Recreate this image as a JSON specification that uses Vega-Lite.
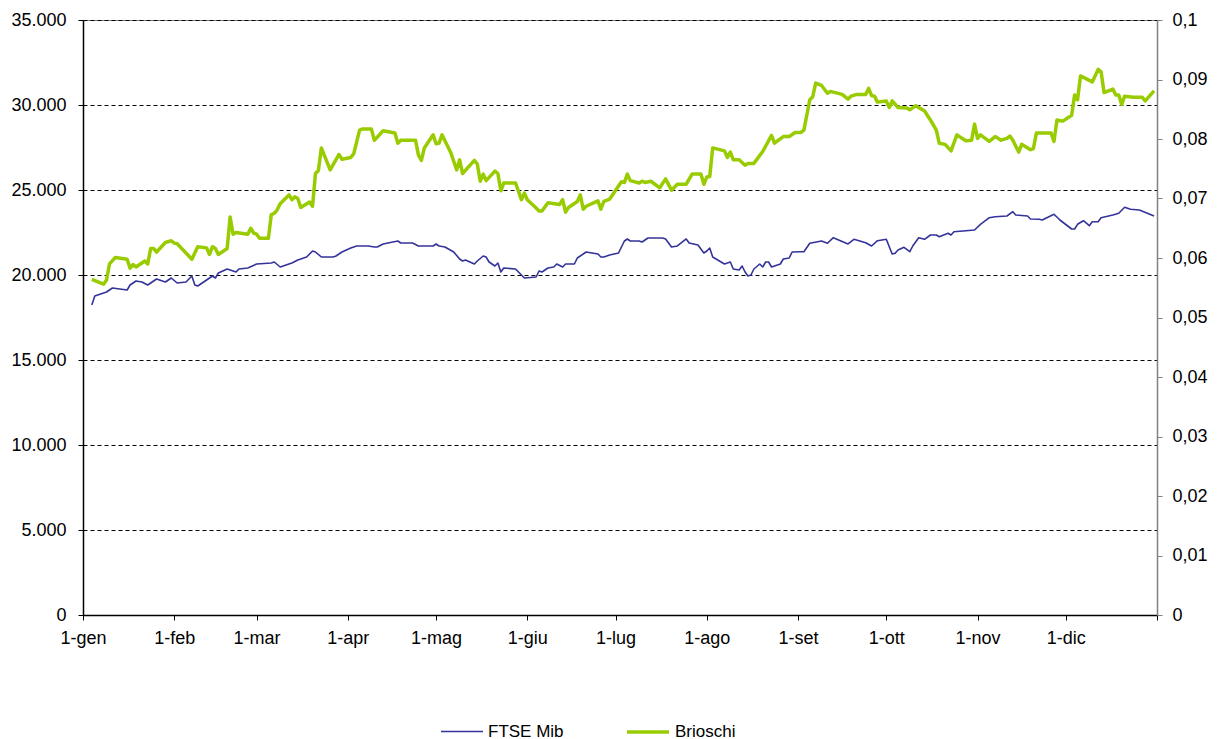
{
  "$schema": "https://vega.github.io/schema/vega-lite/v6.json",
  "width": 1074,
  "height": 595,
  "autosize": {"type": "none"},
  "padding": {"left": 83, "top": 20, "right": 60, "bottom": 124},
  "background": "white",
  "config": {
    "view": {"stroke": "#808080", "strokeWidth": 1},
    "font": "Liberation Sans",
    "axis": {"labelFont": "Liberation Sans", "labelFontSize": 18, "labelColor": "black", "title": null}
  },
  "data": {"values": [
    {"data":"2019-01-04","serie":"FTSE Mib","valore":18230},
    {"data":"2019-01-05","serie":"FTSE Mib","valore":18760},
    {"data":"2019-01-09","serie":"FTSE Mib","valore":19000},
    {"data":"2019-01-11","serie":"FTSE Mib","valore":19235},
    {"data":"2019-01-16","serie":"FTSE Mib","valore":19118},
    {"data":"2019-01-17","serie":"FTSE Mib","valore":19412},
    {"data":"2019-01-19","serie":"FTSE Mib","valore":19647},
    {"data":"2019-01-21","serie":"FTSE Mib","valore":19588},
    {"data":"2019-01-23","serie":"FTSE Mib","valore":19412},
    {"data":"2019-01-26","serie":"FTSE Mib","valore":19765},
    {"data":"2019-01-29","serie":"FTSE Mib","valore":19588},
    {"data":"2019-01-31","serie":"FTSE Mib","valore":19824},
    {"data":"2019-02-02","serie":"FTSE Mib","valore":19530},
    {"data":"2019-02-05","serie":"FTSE Mib","valore":19588},
    {"data":"2019-02-07","serie":"FTSE Mib","valore":19941},
    {"data":"2019-02-08","serie":"FTSE Mib","valore":19412},
    {"data":"2019-02-09","serie":"FTSE Mib","valore":19353},
    {"data":"2019-02-11","serie":"FTSE Mib","valore":19588},
    {"data":"2019-02-14","serie":"FTSE Mib","valore":19941},
    {"data":"2019-02-15","serie":"FTSE Mib","valore":19824},
    {"data":"2019-02-16","serie":"FTSE Mib","valore":20118},
    {"data":"2019-02-19","serie":"FTSE Mib","valore":20353},
    {"data":"2019-02-22","serie":"FTSE Mib","valore":20176},
    {"data":"2019-02-23","serie":"FTSE Mib","valore":20353},
    {"data":"2019-02-26","serie":"FTSE Mib","valore":20412},
    {"data":"2019-03-01","serie":"FTSE Mib","valore":20647},
    {"data":"2019-03-06","serie":"FTSE Mib","valore":20706},
    {"data":"2019-03-07","serie":"FTSE Mib","valore":20765},
    {"data":"2019-03-09","serie":"FTSE Mib","valore":20471},
    {"data":"2019-03-12","serie":"FTSE Mib","valore":20647},
    {"data":"2019-03-13","serie":"FTSE Mib","valore":20706},
    {"data":"2019-03-15","serie":"FTSE Mib","valore":20882},
    {"data":"2019-03-18","serie":"FTSE Mib","valore":21059},
    {"data":"2019-03-20","serie":"FTSE Mib","valore":21412},
    {"data":"2019-03-21","serie":"FTSE Mib","valore":21353},
    {"data":"2019-03-23","serie":"FTSE Mib","valore":21059},
    {"data":"2019-03-27","serie":"FTSE Mib","valore":21059},
    {"data":"2019-03-28","serie":"FTSE Mib","valore":21118},
    {"data":"2019-03-30","serie":"FTSE Mib","valore":21353},
    {"data":"2019-04-02","serie":"FTSE Mib","valore":21588},
    {"data":"2019-04-04","serie":"FTSE Mib","valore":21706},
    {"data":"2019-04-08","serie":"FTSE Mib","valore":21706},
    {"data":"2019-04-10","serie":"FTSE Mib","valore":21647},
    {"data":"2019-04-11","serie":"FTSE Mib","valore":21647},
    {"data":"2019-04-13","serie":"FTSE Mib","valore":21824},
    {"data":"2019-04-18","serie":"FTSE Mib","valore":22000},
    {"data":"2019-04-19","serie":"FTSE Mib","valore":21882},
    {"data":"2019-04-23","serie":"FTSE Mib","valore":21882},
    {"data":"2019-04-25","serie":"FTSE Mib","valore":21706},
    {"data":"2019-04-30","serie":"FTSE Mib","valore":21706},
    {"data":"2019-05-01","serie":"FTSE Mib","valore":21824},
    {"data":"2019-05-02","serie":"FTSE Mib","valore":21706},
    {"data":"2019-05-04","serie":"FTSE Mib","valore":21647},
    {"data":"2019-05-07","serie":"FTSE Mib","valore":21353},
    {"data":"2019-05-09","serie":"FTSE Mib","valore":20941},
    {"data":"2019-05-10","serie":"FTSE Mib","valore":20824},
    {"data":"2019-05-11","serie":"FTSE Mib","valore":20882},
    {"data":"2019-05-14","serie":"FTSE Mib","valore":20647},
    {"data":"2019-05-15","serie":"FTSE Mib","valore":20824},
    {"data":"2019-05-17","serie":"FTSE Mib","valore":21118},
    {"data":"2019-05-18","serie":"FTSE Mib","valore":21059},
    {"data":"2019-05-19","serie":"FTSE Mib","valore":20765},
    {"data":"2019-05-21","serie":"FTSE Mib","valore":20529},
    {"data":"2019-05-22","serie":"FTSE Mib","valore":20706},
    {"data":"2019-05-23","serie":"FTSE Mib","valore":20176},
    {"data":"2019-05-24","serie":"FTSE Mib","valore":20412},
    {"data":"2019-05-28","serie":"FTSE Mib","valore":20353},
    {"data":"2019-05-29","serie":"FTSE Mib","valore":20176},
    {"data":"2019-05-31","serie":"FTSE Mib","valore":19824},
    {"data":"2019-06-04","serie":"FTSE Mib","valore":19882},
    {"data":"2019-06-05","serie":"FTSE Mib","valore":20235},
    {"data":"2019-06-06","serie":"FTSE Mib","valore":20176},
    {"data":"2019-06-08","serie":"FTSE Mib","valore":20412},
    {"data":"2019-06-10","serie":"FTSE Mib","valore":20471},
    {"data":"2019-06-11","serie":"FTSE Mib","valore":20647},
    {"data":"2019-06-13","serie":"FTSE Mib","valore":20471},
    {"data":"2019-06-14","serie":"FTSE Mib","valore":20647},
    {"data":"2019-06-17","serie":"FTSE Mib","valore":20647},
    {"data":"2019-06-18","serie":"FTSE Mib","valore":21000},
    {"data":"2019-06-21","serie":"FTSE Mib","valore":21353},
    {"data":"2019-06-23","serie":"FTSE Mib","valore":21294},
    {"data":"2019-06-25","serie":"FTSE Mib","valore":21235},
    {"data":"2019-06-26","serie":"FTSE Mib","valore":21059},
    {"data":"2019-06-27","serie":"FTSE Mib","valore":21059},
    {"data":"2019-06-29","serie":"FTSE Mib","valore":21176},
    {"data":"2019-07-02","serie":"FTSE Mib","valore":21294},
    {"data":"2019-07-04","serie":"FTSE Mib","valore":22000},
    {"data":"2019-07-05","serie":"FTSE Mib","valore":22118},
    {"data":"2019-07-06","serie":"FTSE Mib","valore":22000},
    {"data":"2019-07-09","serie":"FTSE Mib","valore":22000},
    {"data":"2019-07-10","serie":"FTSE Mib","valore":21941},
    {"data":"2019-07-12","serie":"FTSE Mib","valore":22176},
    {"data":"2019-07-17","serie":"FTSE Mib","valore":22176},
    {"data":"2019-07-18","serie":"FTSE Mib","valore":22118},
    {"data":"2019-07-20","serie":"FTSE Mib","valore":21647},
    {"data":"2019-07-22","serie":"FTSE Mib","valore":21706},
    {"data":"2019-07-25","serie":"FTSE Mib","valore":22118},
    {"data":"2019-07-26","serie":"FTSE Mib","valore":21882},
    {"data":"2019-07-29","serie":"FTSE Mib","valore":21765},
    {"data":"2019-07-31","serie":"FTSE Mib","valore":21294},
    {"data":"2019-08-01","serie":"FTSE Mib","valore":21412},
    {"data":"2019-08-02","serie":"FTSE Mib","valore":21588},
    {"data":"2019-08-03","serie":"FTSE Mib","valore":21059},
    {"data":"2019-08-07","serie":"FTSE Mib","valore":20647},
    {"data":"2019-08-09","serie":"FTSE Mib","valore":20765},
    {"data":"2019-08-10","serie":"FTSE Mib","valore":20353},
    {"data":"2019-08-12","serie":"FTSE Mib","valore":20294},
    {"data":"2019-08-13","serie":"FTSE Mib","valore":20529},
    {"data":"2019-08-14","serie":"FTSE Mib","valore":20176},
    {"data":"2019-08-15","serie":"FTSE Mib","valore":19941},
    {"data":"2019-08-16","serie":"FTSE Mib","valore":20000},
    {"data":"2019-08-17","serie":"FTSE Mib","valore":20353},
    {"data":"2019-08-19","serie":"FTSE Mib","valore":20647},
    {"data":"2019-08-20","serie":"FTSE Mib","valore":20471},
    {"data":"2019-08-21","serie":"FTSE Mib","valore":20765},
    {"data":"2019-08-22","serie":"FTSE Mib","valore":20765},
    {"data":"2019-08-23","serie":"FTSE Mib","valore":20471},
    {"data":"2019-08-26","serie":"FTSE Mib","valore":20647},
    {"data":"2019-08-27","serie":"FTSE Mib","valore":20941},
    {"data":"2019-08-29","serie":"FTSE Mib","valore":21000},
    {"data":"2019-08-30","serie":"FTSE Mib","valore":21353},
    {"data":"2019-09-02","serie":"FTSE Mib","valore":21371},
    {"data":"2019-09-03","serie":"FTSE Mib","valore":21371},
    {"data":"2019-09-05","serie":"FTSE Mib","valore":21865},
    {"data":"2019-09-09","serie":"FTSE Mib","valore":22000},
    {"data":"2019-09-11","serie":"FTSE Mib","valore":21865},
    {"data":"2019-09-13","serie":"FTSE Mib","valore":22194},
    {"data":"2019-09-18","serie":"FTSE Mib","valore":21824},
    {"data":"2019-09-20","serie":"FTSE Mib","valore":22100},
    {"data":"2019-09-24","serie":"FTSE Mib","valore":21900},
    {"data":"2019-09-26","serie":"FTSE Mib","valore":21706},
    {"data":"2019-09-28","serie":"FTSE Mib","valore":22018},
    {"data":"2019-10-01","serie":"FTSE Mib","valore":22100},
    {"data":"2019-10-03","serie":"FTSE Mib","valore":21235},
    {"data":"2019-10-04","serie":"FTSE Mib","valore":21276},
    {"data":"2019-10-05","serie":"FTSE Mib","valore":21471},
    {"data":"2019-10-07","serie":"FTSE Mib","valore":21629},
    {"data":"2019-10-09","serie":"FTSE Mib","valore":21371},
    {"data":"2019-10-10","serie":"FTSE Mib","valore":21706},
    {"data":"2019-10-12","serie":"FTSE Mib","valore":22194},
    {"data":"2019-10-14","serie":"FTSE Mib","valore":22100},
    {"data":"2019-10-16","serie":"FTSE Mib","valore":22353},
    {"data":"2019-10-18","serie":"FTSE Mib","valore":22353},
    {"data":"2019-10-19","serie":"FTSE Mib","valore":22253},
    {"data":"2019-10-22","serie":"FTSE Mib","valore":22453},
    {"data":"2019-10-23","serie":"FTSE Mib","valore":22353},
    {"data":"2019-10-24","serie":"FTSE Mib","valore":22547},
    {"data":"2019-10-31","serie":"FTSE Mib","valore":22647},
    {"data":"2019-11-02","serie":"FTSE Mib","valore":22982},
    {"data":"2019-11-05","serie":"FTSE Mib","valore":23371},
    {"data":"2019-11-07","serie":"FTSE Mib","valore":23429},
    {"data":"2019-11-11","serie":"FTSE Mib","valore":23471},
    {"data":"2019-11-13","serie":"FTSE Mib","valore":23724},
    {"data":"2019-11-14","serie":"FTSE Mib","valore":23529},
    {"data":"2019-11-18","serie":"FTSE Mib","valore":23471},
    {"data":"2019-11-19","serie":"FTSE Mib","valore":23294},
    {"data":"2019-11-22","serie":"FTSE Mib","valore":23276},
    {"data":"2019-11-23","serie":"FTSE Mib","valore":23235},
    {"data":"2019-11-27","serie":"FTSE Mib","valore":23571},
    {"data":"2019-11-29","serie":"FTSE Mib","valore":23235},
    {"data":"2019-12-03","serie":"FTSE Mib","valore":22706},
    {"data":"2019-12-04","serie":"FTSE Mib","valore":22706},
    {"data":"2019-12-05","serie":"FTSE Mib","valore":22982},
    {"data":"2019-12-07","serie":"FTSE Mib","valore":23194},
    {"data":"2019-12-09","serie":"FTSE Mib","valore":22900},
    {"data":"2019-12-10","serie":"FTSE Mib","valore":23135},
    {"data":"2019-12-12","serie":"FTSE Mib","valore":23135},
    {"data":"2019-12-13","serie":"FTSE Mib","valore":23371},
    {"data":"2019-12-17","serie":"FTSE Mib","valore":23529},
    {"data":"2019-12-19","serie":"FTSE Mib","valore":23629},
    {"data":"2019-12-21","serie":"FTSE Mib","valore":23982},
    {"data":"2019-12-23","serie":"FTSE Mib","valore":23865},
    {"data":"2019-12-26","serie":"FTSE Mib","valore":23824},
    {"data":"2019-12-31","serie":"FTSE Mib","valore":23471},
    {"data":"2019-01-04","serie":"Brioschi","valore":0.0564},
    {"data":"2019-01-08","serie":"Brioschi","valore":0.0556},
    {"data":"2019-01-09","serie":"Brioschi","valore":0.0563},
    {"data":"2019-01-10","serie":"Brioschi","valore":0.0590},
    {"data":"2019-01-12","serie":"Brioschi","valore":0.0601},
    {"data":"2019-01-16","serie":"Brioschi","valore":0.0598},
    {"data":"2019-01-17","serie":"Brioschi","valore":0.0583},
    {"data":"2019-01-18","serie":"Brioschi","valore":0.0589},
    {"data":"2019-01-19","serie":"Brioschi","valore":0.0585},
    {"data":"2019-01-22","serie":"Brioschi","valore":0.0595},
    {"data":"2019-01-23","serie":"Brioschi","valore":0.0590},
    {"data":"2019-01-24","serie":"Brioschi","valore":0.0616},
    {"data":"2019-01-25","serie":"Brioschi","valore":0.0616},
    {"data":"2019-01-26","serie":"Brioschi","valore":0.0610},
    {"data":"2019-01-29","serie":"Brioschi","valore":0.0626},
    {"data":"2019-01-31","serie":"Brioschi","valore":0.0629},
    {"data":"2019-02-01","serie":"Brioschi","valore":0.0625},
    {"data":"2019-02-02","serie":"Brioschi","valore":0.0624},
    {"data":"2019-02-07","serie":"Brioschi","valore":0.0598},
    {"data":"2019-02-09","serie":"Brioschi","valore":0.0619},
    {"data":"2019-02-12","serie":"Brioschi","valore":0.0617},
    {"data":"2019-02-13","serie":"Brioschi","valore":0.0606},
    {"data":"2019-02-14","serie":"Brioschi","valore":0.0619},
    {"data":"2019-02-15","serie":"Brioschi","valore":0.0616},
    {"data":"2019-02-16","serie":"Brioschi","valore":0.0606},
    {"data":"2019-02-19","serie":"Brioschi","valore":0.0616},
    {"data":"2019-02-20","serie":"Brioschi","valore":0.0669},
    {"data":"2019-02-21","serie":"Brioschi","valore":0.0640},
    {"data":"2019-02-22","serie":"Brioschi","valore":0.0643},
    {"data":"2019-02-26","serie":"Brioschi","valore":0.0640},
    {"data":"2019-02-27","serie":"Brioschi","valore":0.0650},
    {"data":"2019-02-28","serie":"Brioschi","valore":0.0642},
    {"data":"2019-03-01","serie":"Brioschi","valore":0.0640},
    {"data":"2019-03-02","serie":"Brioschi","valore":0.0633},
    {"data":"2019-03-05","serie":"Brioschi","valore":0.0633},
    {"data":"2019-03-06","serie":"Brioschi","valore":0.0673},
    {"data":"2019-03-07","serie":"Brioschi","valore":0.0675},
    {"data":"2019-03-08","serie":"Brioschi","valore":0.0681},
    {"data":"2019-03-09","serie":"Brioschi","valore":0.0691},
    {"data":"2019-03-12","serie":"Brioschi","valore":0.0706},
    {"data":"2019-03-13","serie":"Brioschi","valore":0.0698},
    {"data":"2019-03-14","serie":"Brioschi","valore":0.0703},
    {"data":"2019-03-15","serie":"Brioschi","valore":0.0700},
    {"data":"2019-03-16","serie":"Brioschi","valore":0.0685},
    {"data":"2019-03-19","serie":"Brioschi","valore":0.0694},
    {"data":"2019-03-20","serie":"Brioschi","valore":0.0687},
    {"data":"2019-03-21","serie":"Brioschi","valore":0.0742},
    {"data":"2019-03-22","serie":"Brioschi","valore":0.0747},
    {"data":"2019-03-23","serie":"Brioschi","valore":0.0785},
    {"data":"2019-03-26","serie":"Brioschi","valore":0.0748},
    {"data":"2019-03-29","serie":"Brioschi","valore":0.0774},
    {"data":"2019-03-30","serie":"Brioschi","valore":0.0766},
    {"data":"2019-04-02","serie":"Brioschi","valore":0.0769},
    {"data":"2019-04-03","serie":"Brioschi","valore":0.0775},
    {"data":"2019-04-05","serie":"Brioschi","valore":0.0815},
    {"data":"2019-04-06","serie":"Brioschi","valore":0.0817},
    {"data":"2019-04-09","serie":"Brioschi","valore":0.0817},
    {"data":"2019-04-10","serie":"Brioschi","valore":0.0798},
    {"data":"2019-04-11","serie":"Brioschi","valore":0.0803},
    {"data":"2019-04-13","serie":"Brioschi","valore":0.0814},
    {"data":"2019-04-17","serie":"Brioschi","valore":0.0810},
    {"data":"2019-04-18","serie":"Brioschi","valore":0.0793},
    {"data":"2019-04-19","serie":"Brioschi","valore":0.0798},
    {"data":"2019-04-24","serie":"Brioschi","valore":0.0798},
    {"data":"2019-04-25","serie":"Brioschi","valore":0.0773},
    {"data":"2019-04-26","serie":"Brioschi","valore":0.0764},
    {"data":"2019-04-27","serie":"Brioschi","valore":0.0785},
    {"data":"2019-04-30","serie":"Brioschi","valore":0.0807},
    {"data":"2019-05-01","serie":"Brioschi","valore":0.0792},
    {"data":"2019-05-02","serie":"Brioschi","valore":0.0793},
    {"data":"2019-05-03","serie":"Brioschi","valore":0.0807},
    {"data":"2019-05-06","serie":"Brioschi","valore":0.0777},
    {"data":"2019-05-08","serie":"Brioschi","valore":0.0748},
    {"data":"2019-05-09","serie":"Brioschi","valore":0.0765},
    {"data":"2019-05-10","serie":"Brioschi","valore":0.0742},
    {"data":"2019-05-14","serie":"Brioschi","valore":0.0764},
    {"data":"2019-05-15","serie":"Brioschi","valore":0.0758},
    {"data":"2019-05-16","serie":"Brioschi","valore":0.0729},
    {"data":"2019-05-17","serie":"Brioschi","valore":0.0741},
    {"data":"2019-05-18","serie":"Brioschi","valore":0.0730},
    {"data":"2019-05-21","serie":"Brioschi","valore":0.0746},
    {"data":"2019-05-22","serie":"Brioschi","valore":0.0742},
    {"data":"2019-05-23","serie":"Brioschi","valore":0.0713},
    {"data":"2019-05-24","serie":"Brioschi","valore":0.0726},
    {"data":"2019-05-28","serie":"Brioschi","valore":0.0726},
    {"data":"2019-05-30","serie":"Brioschi","valore":0.0698},
    {"data":"2019-05-31","serie":"Brioschi","valore":0.0709},
    {"data":"2019-06-01","serie":"Brioschi","valore":0.0698},
    {"data":"2019-06-04","serie":"Brioschi","valore":0.0684},
    {"data":"2019-06-05","serie":"Brioschi","valore":0.0679},
    {"data":"2019-06-06","serie":"Brioschi","valore":0.0679},
    {"data":"2019-06-08","serie":"Brioschi","valore":0.0693},
    {"data":"2019-06-12","serie":"Brioschi","valore":0.0690},
    {"data":"2019-06-13","serie":"Brioschi","valore":0.0698},
    {"data":"2019-06-14","serie":"Brioschi","valore":0.0677},
    {"data":"2019-06-15","serie":"Brioschi","valore":0.0685},
    {"data":"2019-06-18","serie":"Brioschi","valore":0.0695},
    {"data":"2019-06-19","serie":"Brioschi","valore":0.0706},
    {"data":"2019-06-20","serie":"Brioschi","valore":0.0682},
    {"data":"2019-06-21","serie":"Brioschi","valore":0.0687},
    {"data":"2019-06-25","serie":"Brioschi","valore":0.0696},
    {"data":"2019-06-26","serie":"Brioschi","valore":0.0682},
    {"data":"2019-06-27","serie":"Brioschi","valore":0.0695},
    {"data":"2019-06-29","serie":"Brioschi","valore":0.0699},
    {"data":"2019-07-03","serie":"Brioschi","valore":0.0728},
    {"data":"2019-07-04","serie":"Brioschi","valore":0.0727},
    {"data":"2019-07-05","serie":"Brioschi","valore":0.0741},
    {"data":"2019-07-06","serie":"Brioschi","valore":0.0730},
    {"data":"2019-07-09","serie":"Brioschi","valore":0.0726},
    {"data":"2019-07-10","serie":"Brioschi","valore":0.0729},
    {"data":"2019-07-11","serie":"Brioschi","valore":0.0727},
    {"data":"2019-07-13","serie":"Brioschi","valore":0.0729},
    {"data":"2019-07-16","serie":"Brioschi","valore":0.0718},
    {"data":"2019-07-18","serie":"Brioschi","valore":0.0733},
    {"data":"2019-07-20","serie":"Brioschi","valore":0.0714},
    {"data":"2019-07-22","serie":"Brioschi","valore":0.0724},
    {"data":"2019-07-25","serie":"Brioschi","valore":0.0724},
    {"data":"2019-07-27","serie":"Brioschi","valore":0.0741},
    {"data":"2019-07-30","serie":"Brioschi","valore":0.0741},
    {"data":"2019-07-31","serie":"Brioschi","valore":0.0724},
    {"data":"2019-08-01","serie":"Brioschi","valore":0.0736},
    {"data":"2019-08-02","serie":"Brioschi","valore":0.0737},
    {"data":"2019-08-03","serie":"Brioschi","valore":0.0785},
    {"data":"2019-08-07","serie":"Brioschi","valore":0.0780},
    {"data":"2019-08-08","serie":"Brioschi","valore":0.0769},
    {"data":"2019-08-09","serie":"Brioschi","valore":0.0778},
    {"data":"2019-08-10","serie":"Brioschi","valore":0.0765},
    {"data":"2019-08-12","serie":"Brioschi","valore":0.0765},
    {"data":"2019-08-14","serie":"Brioschi","valore":0.0756},
    {"data":"2019-08-15","serie":"Brioschi","valore":0.0759},
    {"data":"2019-08-17","serie":"Brioschi","valore":0.0759},
    {"data":"2019-08-20","serie":"Brioschi","valore":0.0779},
    {"data":"2019-08-23","serie":"Brioschi","valore":0.0806},
    {"data":"2019-08-24","serie":"Brioschi","valore":0.0793},
    {"data":"2019-08-27","serie":"Brioschi","valore":0.0804},
    {"data":"2019-08-29","serie":"Brioschi","valore":0.0804},
    {"data":"2019-08-31","serie":"Brioschi","valore":0.0811},
    {"data":"2019-09-02","serie":"Brioschi","valore":0.0811},
    {"data":"2019-09-03","serie":"Brioschi","valore":0.0815},
    {"data":"2019-09-05","serie":"Brioschi","valore":0.0866},
    {"data":"2019-09-06","serie":"Brioschi","valore":0.0871},
    {"data":"2019-09-07","serie":"Brioschi","valore":0.0894},
    {"data":"2019-09-09","serie":"Brioschi","valore":0.0890},
    {"data":"2019-09-11","serie":"Brioschi","valore":0.0877},
    {"data":"2019-09-12","serie":"Brioschi","valore":0.0880},
    {"data":"2019-09-16","serie":"Brioschi","valore":0.0875},
    {"data":"2019-09-18","serie":"Brioschi","valore":0.0867},
    {"data":"2019-09-19","serie":"Brioschi","valore":0.0872},
    {"data":"2019-09-21","serie":"Brioschi","valore":0.0875},
    {"data":"2019-09-24","serie":"Brioschi","valore":0.0875},
    {"data":"2019-09-25","serie":"Brioschi","valore":0.0885},
    {"data":"2019-09-26","serie":"Brioschi","valore":0.0873},
    {"data":"2019-09-27","serie":"Brioschi","valore":0.0872},
    {"data":"2019-09-28","serie":"Brioschi","valore":0.0862},
    {"data":"2019-10-01","serie":"Brioschi","valore":0.0864},
    {"data":"2019-10-02","serie":"Brioschi","valore":0.0853},
    {"data":"2019-10-03","serie":"Brioschi","valore":0.0864},
    {"data":"2019-10-05","serie":"Brioschi","valore":0.0853},
    {"data":"2019-10-08","serie":"Brioschi","valore":0.0852},
    {"data":"2019-10-09","serie":"Brioschi","valore":0.0849},
    {"data":"2019-10-11","serie":"Brioschi","valore":0.0856},
    {"data":"2019-10-14","serie":"Brioschi","valore":0.0847},
    {"data":"2019-10-16","serie":"Brioschi","valore":0.0832},
    {"data":"2019-10-18","serie":"Brioschi","valore":0.0815},
    {"data":"2019-10-19","serie":"Brioschi","valore":0.0793},
    {"data":"2019-10-21","serie":"Brioschi","valore":0.0791},
    {"data":"2019-10-23","serie":"Brioschi","valore":0.0780},
    {"data":"2019-10-25","serie":"Brioschi","valore":0.0807},
    {"data":"2019-10-28","serie":"Brioschi","valore":0.0797},
    {"data":"2019-10-30","serie":"Brioschi","valore":0.0798},
    {"data":"2019-10-31","serie":"Brioschi","valore":0.0825},
    {"data":"2019-11-01","serie":"Brioschi","valore":0.0801},
    {"data":"2019-11-02","serie":"Brioschi","valore":0.0807},
    {"data":"2019-11-05","serie":"Brioschi","valore":0.0796},
    {"data":"2019-11-07","serie":"Brioschi","valore":0.0804},
    {"data":"2019-11-09","serie":"Brioschi","valore":0.0798},
    {"data":"2019-11-11","serie":"Brioschi","valore":0.0801},
    {"data":"2019-11-12","serie":"Brioschi","valore":0.0805},
    {"data":"2019-11-13","serie":"Brioschi","valore":0.0798},
    {"data":"2019-11-15","serie":"Brioschi","valore":0.0778},
    {"data":"2019-11-16","serie":"Brioschi","valore":0.0791},
    {"data":"2019-11-19","serie":"Brioschi","valore":0.0782},
    {"data":"2019-11-20","serie":"Brioschi","valore":0.0784},
    {"data":"2019-11-21","serie":"Brioschi","valore":0.0810},
    {"data":"2019-11-26","serie":"Brioschi","valore":0.0810},
    {"data":"2019-11-27","serie":"Brioschi","valore":0.0796},
    {"data":"2019-11-28","serie":"Brioschi","valore":0.0832},
    {"data":"2019-11-30","serie":"Brioschi","valore":0.0830},
    {"data":"2019-12-03","serie":"Brioschi","valore":0.0840},
    {"data":"2019-12-04","serie":"Brioschi","valore":0.0874},
    {"data":"2019-12-05","serie":"Brioschi","valore":0.0866},
    {"data":"2019-12-06","serie":"Brioschi","valore":0.0906},
    {"data":"2019-12-10","serie":"Brioschi","valore":0.0896},
    {"data":"2019-12-12","serie":"Brioschi","valore":0.0917},
    {"data":"2019-12-13","serie":"Brioschi","valore":0.0913},
    {"data":"2019-12-14","serie":"Brioschi","valore":0.0878},
    {"data":"2019-12-17","serie":"Brioschi","valore":0.0884},
    {"data":"2019-12-18","serie":"Brioschi","valore":0.0874},
    {"data":"2019-12-19","serie":"Brioschi","valore":0.0874},
    {"data":"2019-12-20","serie":"Brioschi","valore":0.0858},
    {"data":"2019-12-21","serie":"Brioschi","valore":0.0872},
    {"data":"2019-12-24","serie":"Brioschi","valore":0.0870},
    {"data":"2019-12-27","serie":"Brioschi","valore":0.0870},
    {"data":"2019-12-28","serie":"Brioschi","valore":0.0864},
    {"data":"2019-12-31","serie":"Brioschi","valore":0.0881}
  ]},
  "encoding": {
    "x": {
      "field": "data",
      "type": "temporal",
      "scale": {
        "type": "utc",
        "domain": [{"year": 2019, "month": 1, "date": 1, "utc": true}, {"year": 2020, "month": 1, "date": 1, "utc": true}]
      },
      "axis": {
        "values": [
          {"year": 2019, "month": 1, "date": 1, "utc": true},
          {"year": 2019, "month": 2, "date": 1, "utc": true},
          {"year": 2019, "month": 3, "date": 1, "utc": true},
          {"year": 2019, "month": 4, "date": 1, "utc": true},
          {"year": 2019, "month": 5, "date": 1, "utc": true},
          {"year": 2019, "month": 6, "date": 1, "utc": true},
          {"year": 2019, "month": 7, "date": 1, "utc": true},
          {"year": 2019, "month": 8, "date": 1, "utc": true},
          {"year": 2019, "month": 9, "date": 1, "utc": true},
          {"year": 2019, "month": 10, "date": 1, "utc": true},
          {"year": 2019, "month": 11, "date": 1, "utc": true},
          {"year": 2019, "month": 12, "date": 1, "utc": true},
          {"year": 2020, "month": 1, "date": 1, "utc": true}
        ],
        "labelExpr": "utcyear(datum.value) > 2019 ? '' : '1-' + ['gen','feb','mar','apr','mag','giu','lug','ago','set','ott','nov','dic'][utcmonth(datum.value)]",
        "labelOverlap": false,
        "labelFlush": false,
        "grid": false,
        "domainColor": "black",
        "domainWidth": 1.5,
        "tickColor": "black",
        "tickSize": 5,
        "labelPadding": 9
      }
    },
    "color": {
      "field": "serie",
      "type": "nominal",
      "scale": {"domain": ["FTSE Mib", "Brioschi"], "range": ["#333399", "#99CC00"]},
      "legend": {
        "orient": "none",
        "legendX": 357,
        "legendY": 689,
        "direction": "horizontal",
        "title": null,
        "symbolType": "stroke",
        "symbolSize": 1764,
        "labelFontSize": 17,
        "labelFont": "Liberation Sans",
        "labelColor": "black",
        "labelOffset": 4,
        "columnPadding": 56
      }
    },
    "strokeWidth": {
      "field": "serie",
      "type": "ordinal",
      "scale": {"domain": ["FTSE Mib", "Brioschi"], "range": [1.6, 3.5]},
      "legend": {
        "orient": "none",
        "legendX": 357,
        "legendY": 689,
        "direction": "horizontal",
        "title": null,
        "symbolType": "stroke",
        "symbolSize": 1764,
        "labelFontSize": 17,
        "labelFont": "Liberation Sans",
        "labelColor": "black",
        "labelOffset": 4,
        "columnPadding": 56
      }
    }
  },
  "layer": [
    {
      "transform": [{"filter": "datum.serie === 'FTSE Mib'"}],
      "mark": {"type": "line", "strokeJoin": "round"},
      "encoding": {
        "y": {
          "field": "valore",
          "type": "quantitative",
          "scale": {"domain": [0, 35000], "nice": false, "zero": true},
          "axis": {
            "orient": "left",
            "values": [0, 5000, 10000, 15000, 20000, 25000, 30000, 35000],
            "labelExpr": "replace(format(datum.value, ','), ',', '.')",
            "grid": true,
            "gridColor": "black",
            "gridDash": [4, 3],
            "gridWidth": 1,
            "domainColor": "black",
            "domainWidth": 1.5,
            "tickColor": "black",
            "tickSize": 5,
            "labelPadding": 12
          }
        }
      }
    },
    {
      "transform": [{"filter": "datum.serie === 'Brioschi'"}],
      "mark": {"type": "line", "strokeJoin": "round"},
      "encoding": {
        "y": {
          "field": "valore",
          "type": "quantitative",
          "scale": {"domain": [0, 0.1], "nice": false, "zero": true},
          "axis": {
            "orient": "right",
            "values": [0, 0.01, 0.02, 0.03, 0.04, 0.05, 0.06, 0.07, 0.08, 0.09, 0.1],
            "labelExpr": "replace(format(datum.value, '.2~f'), '.', ',')",
            "grid": false,
            "domainColor": "#808080",
            "domainWidth": 1.5,
            "tickColor": "#808080",
            "tickSize": 5,
            "labelPadding": 10
          }
        }
      }
    }
  ],
  "resolve": {"scale": {"y": "independent"}}
}
